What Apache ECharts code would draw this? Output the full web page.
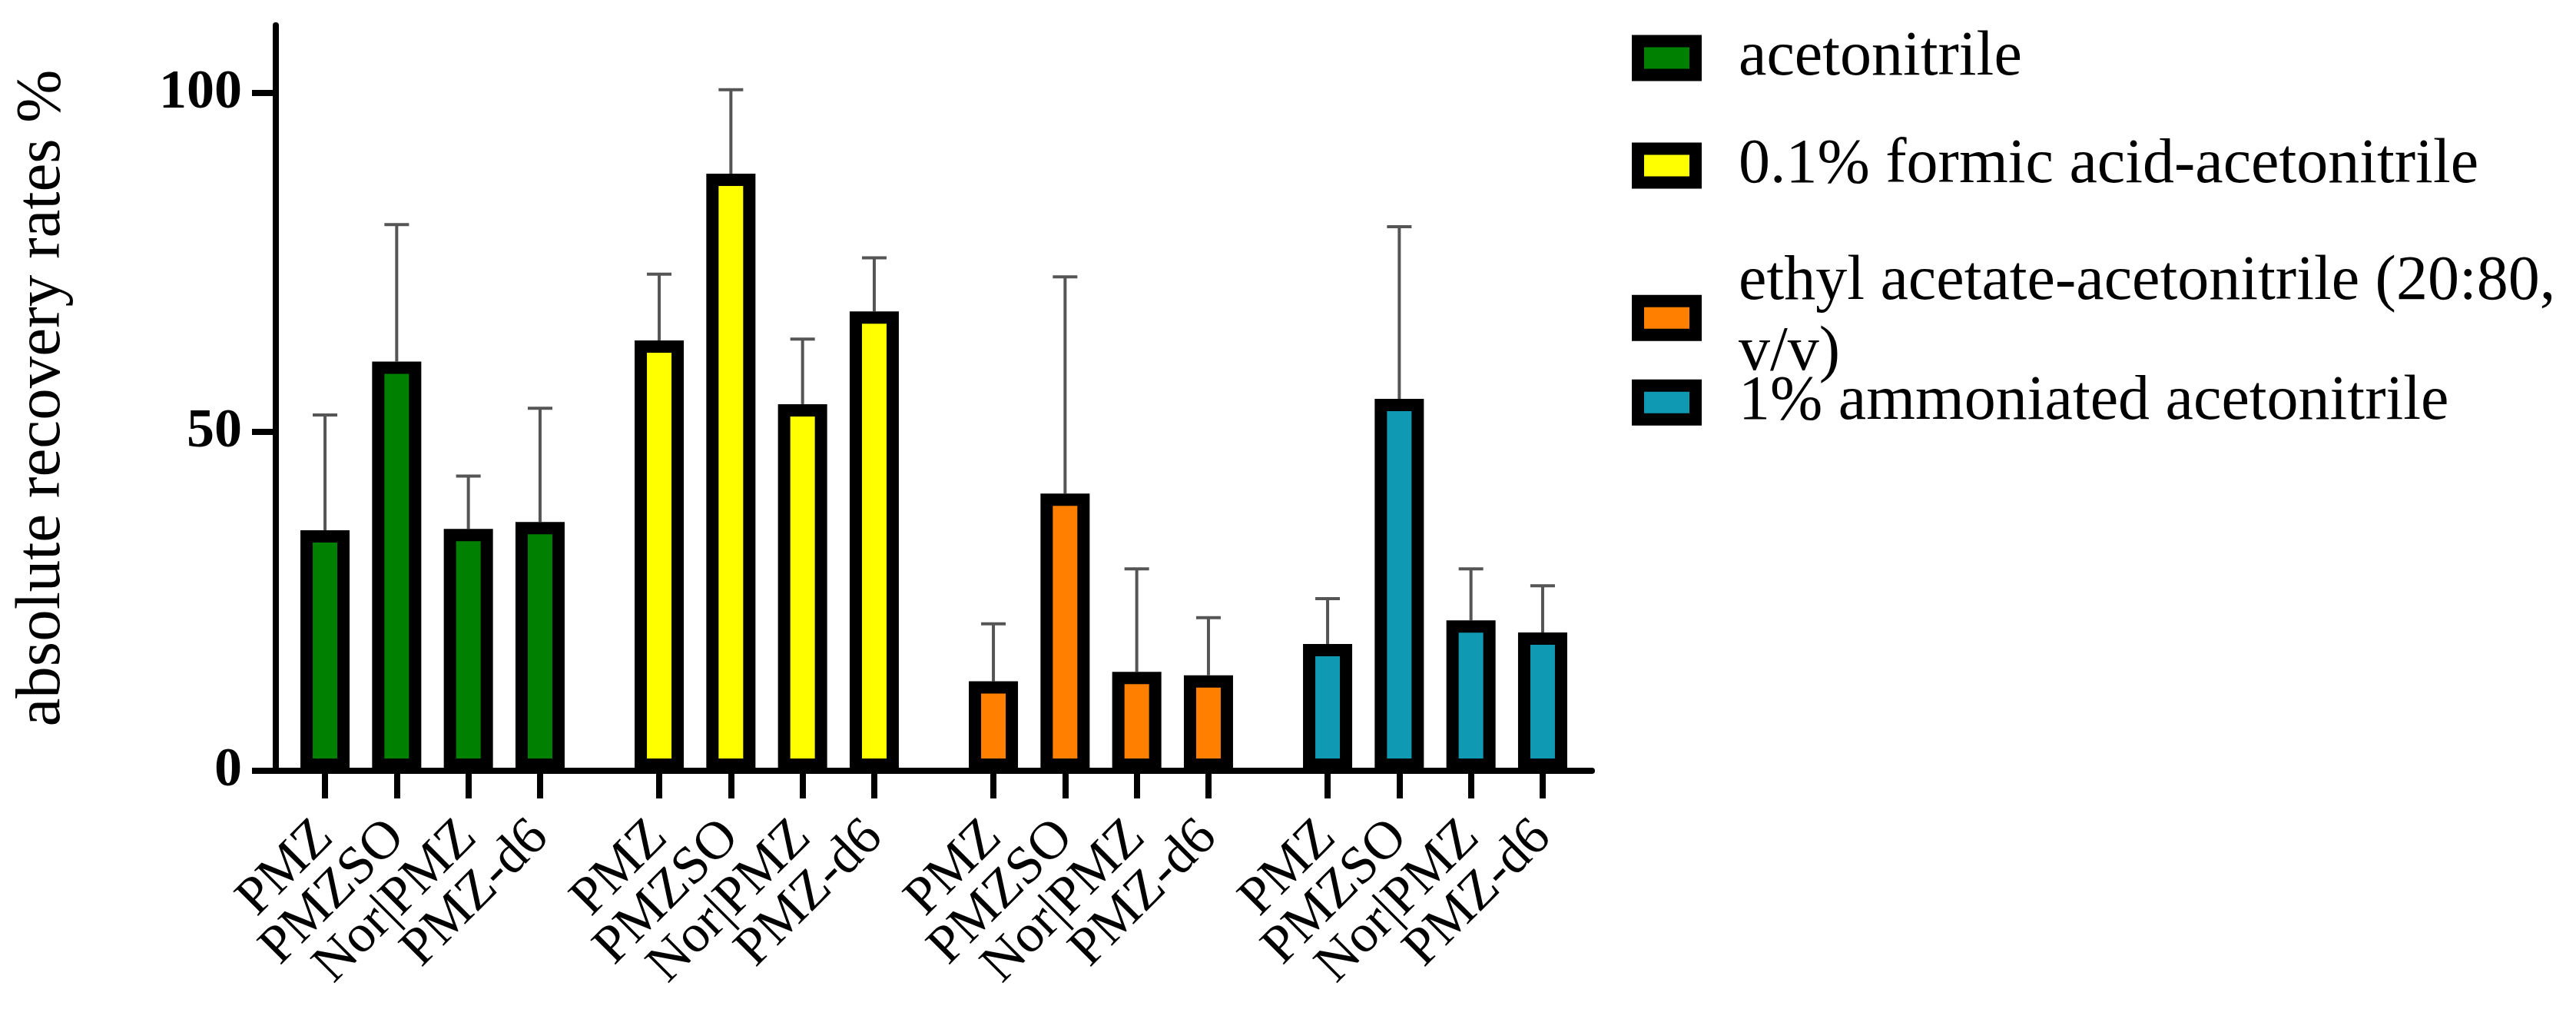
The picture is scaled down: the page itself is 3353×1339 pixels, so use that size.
<!DOCTYPE html>
<html>
<head>
<meta charset="utf-8">
<script src="https://cdn.jsdelivr.net/npm/echarts@6/dist/echarts.min.js"></script>
<style>
html,body{margin:0;padding:0;background:#fff;}
#chart{width:3353px;height:1339px;}
</style>
</head>
<body>
<div id="chart"></div>
<script>
// ---- data ----
const categories = ['PMZ', 'PMZSO', 'Nor|PMZ', 'PMZ-d6'];
const solvents = [
  'acetonitrile',
  '0.1% formic acid-acetonitrile',
  'ethyl acetate-acetonitrile (20:80, v/v)',
  '1% ammoniated acetonitrile'
];
const colors = ['#008000', '#FFFF00', '#FF8000', '#0F99B3'];
const acetonitrileMean = [35.5, 60.4, 35.7, 36.7];
const acetonitrileErr  = [17.0, 20.2, 7.8, 16.8];
const formicMean = [63.5, 88.1, 54.1, 67.8];
const formicErr  = [9.8, 12.4, 9.6, 7.9];
const ethylMean = [13.2, 40.9, 14.6, 14.1];
const ethylErr  = [8.5, 32.0, 15.2, 8.5];
const ammoniaMean = [18.7, 54.9, 22.2, 20.4];
const ammoniaErr  = [6.7, 25.4, 7.6, 6.9];
const yTicks = [0, 50, 100];

const means = [acetonitrileMean, formicMean, ethylMean, ammoniaMean];
const errs = [acetonitrileErr, formicErr, ethylErr, ammoniaErr];

// ---- layout ----
const FONT = "'Liberation Serif', 'Times New Roman', serif";
const TOP = 33, BOTTOM = 336;
const groupLeft0 = 376.4, groupPitch = 435, groupWidth = 373.2;

const grids = [{left: 359, right: 1281, top: TOP, bottom: BOTTOM}];
const xAxes = [{
  gridIndex: 0, type: 'value', min: 0, max: 1,
  axisLine: {show: true, lineStyle: {color: '#000', width: 8}},
  axisTick: {show: false}, axisLabel: {show: false}, splitLine: {show: false}
}];
const yAxes = [{
  gridIndex: 0, type: 'value', min: 0, max: 110, interval: 50,
  axisLine: {show: true, lineStyle: {color: '#000', width: 8}},
  axisTick: {show: true, length: 31, lineStyle: {color: '#000', width: 8}, customValues: yTicks},
  axisLabel: {customValues: yTicks, margin: 44, fontSize: 72, fontWeight: 'bold', fontFamily: FONT, color: '#000'},
  splitLine: {show: false},
  name: 'absolute recovery rates %', nameLocation: 'middle', nameGap: 262,
  nameTextStyle: {fontSize: 83, fontFamily: FONT, color: '#000'}
}];
const series = [];
const legends = [];
const legendTops = [29.5, 169.5, 294.7, 477.7];
const legendPad = [[0, 0, 0, 51], [0, 0, 0, 51], [0, 0, 54, 51], [0, 0, 0, 51]];

for (let k = 0; k < 4; k++) {
  grids.push({left: groupLeft0 + groupPitch * k, width: groupWidth, top: TOP, bottom: BOTTOM});
  xAxes.push({
    gridIndex: k + 1, type: 'category', data: categories,
    axisLine: {show: false},
    axisTick: {show: true, alignWithLabel: true, length: 36, lineStyle: {color: '#000', width: 8}},
    axisLabel: {rotate: 45, margin: 76, fontSize: 70, fontFamily: FONT, color: '#000', interval: 0},
    splitLine: {show: false}
  });
  yAxes.push({gridIndex: k + 1, type: 'value', min: 0, max: 110, show: false, splitLine: {show: false}});
  series.push({
    type: 'bar', name: solvents[k], xAxisIndex: k + 1, yAxisIndex: k + 1,
    data: means[k], barWidth: 64, z: 3,
    itemStyle: {color: colors[k], borderColor: '#000', borderWidth: 16}
  });
  series.push({
    type: 'custom', xAxisIndex: k + 1, yAxisIndex: k + 1, z: 1, silent: true,
    data: means[k].map((m, i) => [i, m, errs[k][i]]),
    renderItem: function (params, api) {
      const base = api.coord([api.value(0), api.value(1)]);
      const top = api.coord([api.value(0), api.value(1) + api.value(2)]);
      const hw = 16;
      const st = {stroke: '#555555', lineWidth: 4};
      return {type: 'group', children: [
        {type: 'line', shape: {x1: base[0], y1: base[1], x2: top[0], y2: top[1]}, style: st},
        {type: 'line', shape: {x1: top[0] - hw, y1: top[1], x2: top[0] + hw, y2: top[1]}, style: st}
      ]};
    }
  });
  legends.push({
    data: [solvents[k]], left: 2124, top: legendTops[k], orient: 'vertical',
    padding: 0, icon: 'rect', itemWidth: 75, itemHeight: 44, selectedMode: false,
    itemStyle: {color: colors[k], borderColor: '#000', borderWidth: 16},
    formatter: function (name) { return name.replace(', v/v)', ',\nv/v)'); },
    textStyle: {fontSize: 82, fontFamily: FONT, color: '#000', lineHeight: 92, padding: legendPad[k]}
  });
}

const chart = echarts.init(document.getElementById('chart'));
chart.setOption({
  backgroundColor: '#fff',
  animation: false,
  grid: grids,
  xAxis: xAxes,
  yAxis: yAxes,
  legend: legends,
  series: series
});
</script>
</body>
</html>
